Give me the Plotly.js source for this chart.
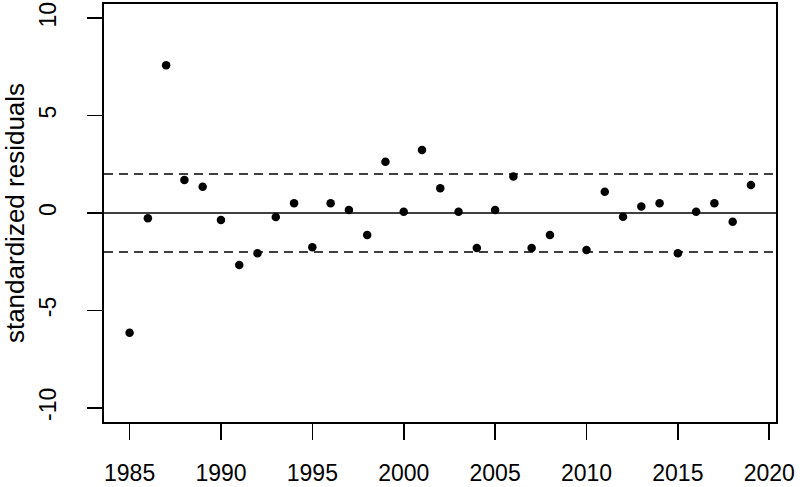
<!DOCTYPE html>
<html>
<head>
<meta charset="utf-8">
<script src="https://cdn.plot.ly/plotly-3.0.1.min.js"></script>
<style>html,body{margin:0;padding:0;background:#fff;}#chart{width:800px;height:487px;}</style>
</head>
<body>
<div id="chart"></div>
<script>
const years = [1985,1986,1987,1988,1989,1990,1991,1992,1993,1994,1995,1996,1997,1998,1999,2000,2001,2002,2003,2004,2005,2006,2007,2008,2010,2011,2012,2013,2014,2015,2016,2017,2018,2019];
const residuals = [-6.15,-0.27,7.59,1.69,1.35,-0.36,-2.67,-2.07,-0.21,0.50,-1.76,0.50,0.15,-1.13,2.63,0.07,3.24,1.27,0.07,-1.80,0.15,1.87,-1.80,-1.13,-1.90,1.09,-0.19,0.33,0.50,-2.07,0.07,0.50,-0.45,1.44];
const xTicks = [1985,1990,1995,2000,2005,2010,2015,2020];
const yTicks = [-10,-5,0,5,10];
const solidLevels = [0];
const dashedLevels = [2,-2];

const shapes = [];
solidLevels.forEach(v => shapes.push({type:'line', xref:'paper', x0:0, x1:1, yref:'y', y0:v, y1:v, line:{color:'#000', width:1.6}}));
dashedLevels.forEach(v => shapes.push({type:'line', xref:'paper', x0:0, x1:1, yref:'y', y0:v, y1:v, line:{color:'#000', width:1.6, dash:'9px,6px'}}));

const trace = {
  x: years, y: residuals, type:'scatter', mode:'markers',
  marker:{color:'#000', size:8.5},
  hoverinfo:'x+y'
};
const font = {family:'"Liberation Sans", Arial, sans-serif', color:'#000'};
const layout = {
  width:800, height:487,
  margin:{l:104, r:24, t:4, b:65},
  paper_bgcolor:'#fff', plot_bgcolor:'#fff',
  showlegend:false,
  font: Object.assign({size:20}, font),
  xaxis:{
    range:[1983.6, 2020.37], tickvals:xTicks, ticktext:xTicks.map(String),
    ticks:'outside', ticklen:16, tickwidth:1.6, tickcolor:'#000',
    showgrid:false, zeroline:false, showline:true, linecolor:'#000', linewidth:1.6, mirror:true,
    tickfont:Object.assign({size:23}, font), ticklabelstandoff:14
  },
  yaxis:{
    range:[-10.73, 10.73], tickvals:yTicks, ticktext:yTicks.map(String),
    ticks:'outside', ticklen:15, tickwidth:1.6, tickcolor:'#000', tickangle:-90,
    showgrid:false, zeroline:false, showline:true, linecolor:'#000', linewidth:1.6, mirror:true,
    tickfont:Object.assign({size:23}, font), ticklabelstandoff:22,
    title:{text:'standardized residuals', font:Object.assign({size:26}, font), standoff:22}
  },
  shapes: shapes
};
Plotly.newPlot('chart', [trace], layout, {displayModeBar:false, staticPlot:true});
</script>
</body>
</html>
